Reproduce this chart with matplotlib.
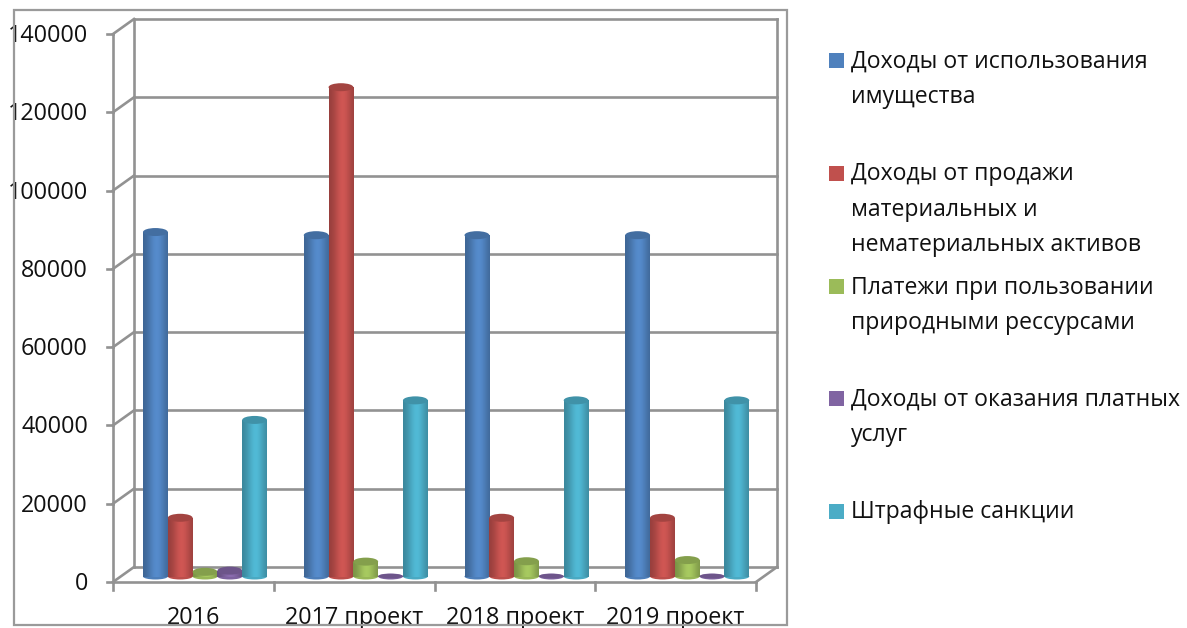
import numpy as np
import matplotlib
matplotlib.use("Agg")
import matplotlib.pyplot as plt
from matplotlib.colors import to_rgb
from matplotlib.patches import Ellipse

categories = ["2016", "2017 проект", "2018 проект", "2019 проект"]
series_names = ["Доходы от использования\nимущества",
                "Доходы от продажи\nматериальных и\nнематериальных активов",
                "Платежи при пользовании\nприродными рессурсами",
                "Доходы от оказания платных\nуслуг",
                "Штрафные санкции"]
imushchestvo = [88000, 87200, 87200, 87200]
prodazha = [15000, 125000, 15000, 15000]
platezhi = [1200, 3800, 3900, 4200]
uslugi = [1500, 100, 100, 100]
shtrafy = [40000, 45000, 45000, 45000]
all_values = [imushchestvo, prodazha, platezhi, uslugi, shtrafy]
colors = ["#4F81BD", "#C0504D", "#9BBB59", "#8064A2", "#4BACC6"]
yticks = [0, 20000, 40000, 60000, 80000, 100000, 120000, 140000]

W, H = 1187, 628
plt.rcParams["font.family"] = ["Open Sans", "DejaVu Sans"]
fig = plt.figure(figsize=(W/100, H/100), dpi=100)
L, R, T, B = 113, 756, 34, 582
ax = fig.add_axes([L/W, 1-B/H, (R-L)/W, (B-T)/H])
ax.set_xlim(0, 4)
ax.set_ylim(0, 140000)
ax.axis("off")

ux = 4/(R-L)                 # data units per pixel
uy = 140000/(B-T)
dx, dy = 21*ux, 15*uy        # depth of the 3-D box
grey = "#929292"
kw = dict(color=grey, lw=1.9, clip_on=False, zorder=1, solid_capstyle="projecting")

# side wall, floor, back wall and gridlines
ax.plot([0, 0], [0, 140000], **kw)
ax.plot([dx, dx], [dy, 140000+dy], **kw)
ax.plot([0, 4], [0, 0], **kw)
ax.plot([4, 4+dx], [0, dy], **kw)
ax.plot([4+dx, 4+dx], [dy, 140000+dy], **kw)
for t in yticks:
    ax.plot([dx, 4+dx], [t+dy, t+dy], **kw)
    ax.plot([0, dx], [t, t+dy], **kw)
    ax.plot([-6*ux, 0], [t, t], **kw)
    ax.text(-25*ux, t-2*uy, f"{t}", ha="right", va="center", fontsize=16.8, color="#111111", clip_on=False)
for i in range(5):
    ax.plot([i, i], [0, -8*uy], **kw)
for i, c in enumerate(categories):
    ax.text(i+0.5, -35.5*uy, c, ha="center", va="center", fontsize=16.8, color="#111111", clip_on=False)

# chart frame
fig.add_artist(plt.Rectangle((14/W, 1-625/H), (787-14)/W, (625-10)/H, fill=False,
                             ec="#9A9A9A", lw=1.6, transform=fig.transFigure))

# cylinders
bw = 24.8*ux
start = 30*ux
base = 5.5*uy
eh = 8*uy
prof = np.linspace(0, 1, 64)
shade = 0.76 + 0.32*np.exp(-((prof-0.55)/0.36)**2)
for s, (vals, col) in enumerate(zip(all_values, colors)):
    rgb = np.array(to_rgb(col))
    img = np.clip(shade[None, :, None]*rgb[None, None, :], 0, 1)
    for i, v in enumerate(vals):
        x0 = i + start + s*bw
        cx = x0 + bw/2
        top = base + v
        cap_h = eh if v >= 300 else eh*0.55
        ax.add_patch(Ellipse((cx, base), bw, 6*uy, fc=rgb*0.98, ec="none", zorder=3+s, clip_on=False))
        ax.imshow(img, extent=[x0, x0+bw, base, top], aspect="auto", zorder=3+s, clip_on=False)
        ax.add_patch(Ellipse((cx, top), bw, cap_h, fc=rgb*0.85, ec="none", zorder=3.5+s, clip_on=False))
ax.set_xlim(0, 4)
ax.set_ylim(0, 140000)

# legend
tops = [60.5, 173.5, 286.5, 398.5, 511.5]
for name, col, yp in zip(series_names, colors, tops):
    fig.add_artist(plt.Rectangle((829/W, 1-(yp+7.5)/H), 15/W, 15/H, fc=col, ec="none",
                                 transform=fig.transFigure))
    fig.text(851/W, 1-(yp-11)/H, name, ha="left", va="top", fontsize=16.6, color="#111111",
             linespacing=1.62)

fig.savefig("out.png", dpi=100)
